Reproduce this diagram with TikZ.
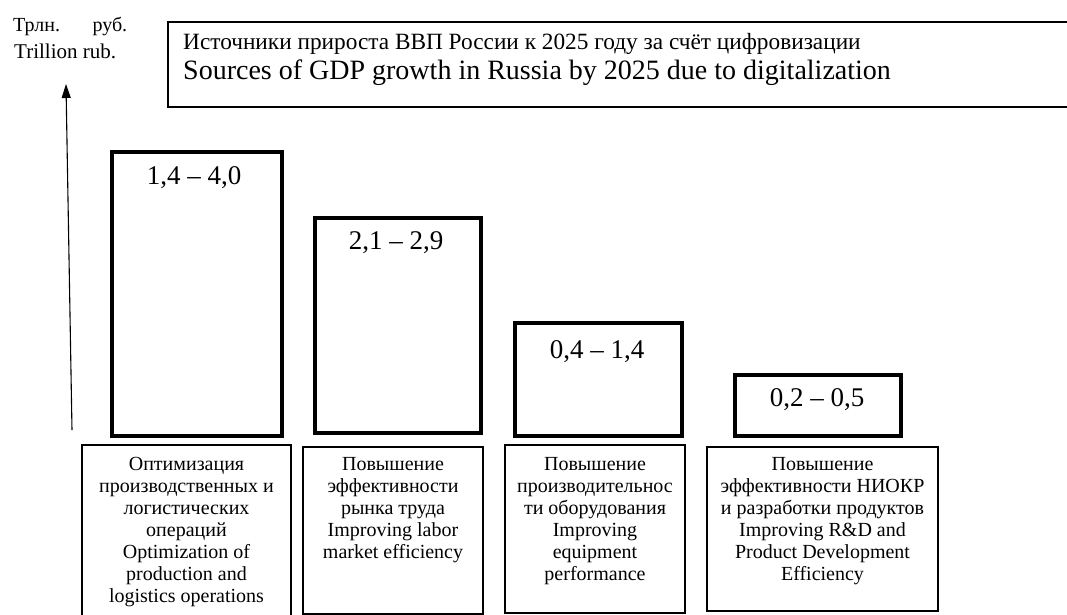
\documentclass[tikz,border=0pt]{standalone}
\usepackage{fontspec}
\setmainfont{Liberation Serif}
\usetikzlibrary{arrows.meta}
\tikzset{
  bar/.style={draw, line width=4.5pt},
  catbox/.style={draw, line width=1.2pt},
  vallabel/.style={font=\fontsize{27}{30}\selectfont, inner sep=0pt},
  boxtext/.style={align=center, inner sep=0pt, font=\fontsize{20}{22}\selectfont},
}
\begin{document}
\begin{tikzpicture}[x=1pt,y=-1pt]
\useasboundingbox (0,0) rectangle (1067,615);
\clip (0,0) rectangle (1067,615);
% axis label
\node[anchor=base west, inner sep=0pt, font=\fontsize{20}{22}\selectfont] (ylab1) at (13,32) {\hbox to 114pt{Трлн.\hfill руб.}};
\node[anchor=base west, inner sep=0pt, font=\fontsize{21}{22}\selectfont] (ylab2) at (14,59) {Trillion rub.};
% axis arrow
\coordinate (axb) at (72,430);
\coordinate (axt) at (66,84);
\draw[line width=1.1pt, -{Triangle[length=14pt,width=9pt]}] (axb) -- (axt);
% title box
\draw[line width=1.5pt] (168,22) rectangle (1080,107);
\node[anchor=base west, inner sep=0pt, font=\fontsize{23.3}{24}\selectfont] (t1) at (183,50) {Источники прироста ВВП России к 2025 году за счёт цифровизации};
\node[anchor=base west, inner sep=0pt, font=\fontsize{28}{30}\selectfont] (t2) at (183,80) {Sources of GDP growth in Russia by 2025 due to digitalization};
% bars
\draw[bar] (112,152) rectangle (282,436);
\draw[bar] (315,218) rectangle (481,433);
\draw[bar] (515,323) rectangle (682,436);
\draw[bar] (735,375) rectangle (901,436);
\node[vallabel] (v1) at (194,178) {1,4 – 4,0};
\node[vallabel] (v2) at (396,243) {2,1 – 2,9};
\node[vallabel] (v3) at (597,352) {0,4 – 1,4};
\node[vallabel] (v4) at (817,400) {0,2 – 0,5};
% category boxes
\draw[catbox] (82,445) rectangle (291,620);
\draw[catbox] (303,447) rectangle (483,614);
\draw[catbox] (505,445) rectangle (685,613);
\draw[catbox] (707,447) rectangle (938,611);
\node[boxtext, anchor=north] (c1) at (186.5,457) {Оптимизация\\производственных и\\логистических\\операций\\Optimization of\\production and\\logistics operations};
\node[boxtext, anchor=north] (c2) at (393,457) {Повышение\\эффективности\\рынка труда\\Improving labor\\market efficiency};
\node[boxtext, anchor=north] (c3) at (595,457) {Повышение\\производительнос\\ти оборудования\\Improving\\equipment\\performance};
\node[boxtext, anchor=north] (c4) at (822.5,457) {Повышение\\эффективности НИОКР\\и разработки продуктов\\Improving R\&D and\\Product Development\\Efficiency};
\end{tikzpicture}
\end{document}
